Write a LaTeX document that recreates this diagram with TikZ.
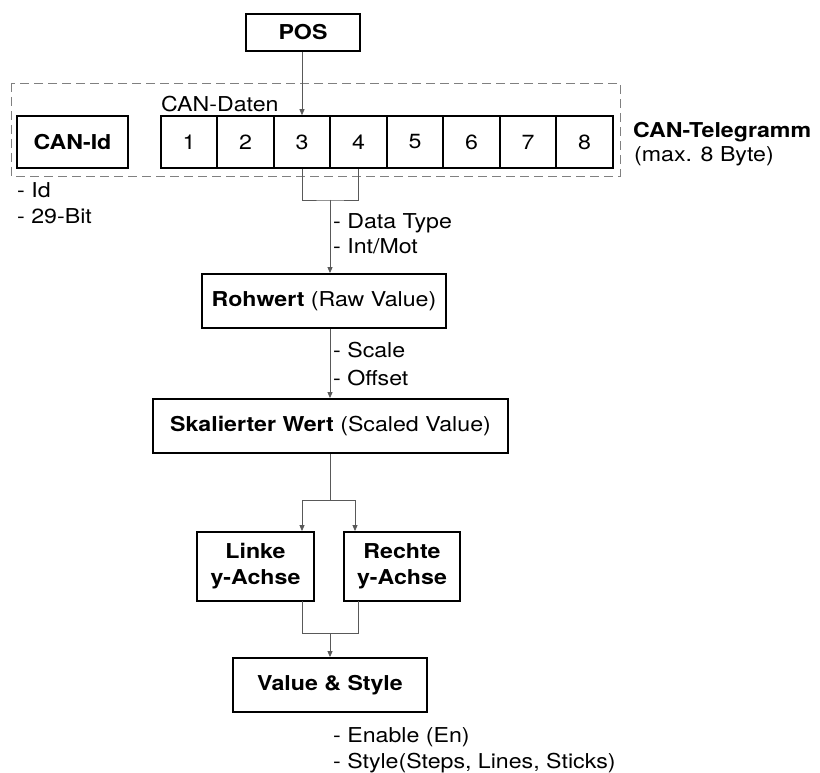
\documentclass[tikz,border=0pt]{standalone}
\usepackage{fontspec}
\setmainfont[FakeStretch=1.13]{TeX Gyre Heros}
\usetikzlibrary{arrows.meta}
\tikzset{
  x=1pt, y=-1pt,
  box/.style={draw=black, line width=1.8pt, minimum height=54pt, inner sep=0pt, font=\fontsize{20.5}{24}\selectfont},
  cell/.style={draw=black, line width=1.6pt, minimum width=56.5pt, minimum height=52pt, inner sep=0pt, font=\fontsize{20.5}{24}\selectfont},
  link/.style={draw=black!65, line width=0.8pt},
  arr/.style={link, -{Triangle[length=6pt,width=5pt]}},
  note/.style={anchor=base west, inner sep=0pt, font=\fontsize{20.5}{24}\selectfont},
}
\begin{document}
\begin{tikzpicture}
\useasboundingbox (0,0) rectangle (820,773);

% frame around the CAN telegram
\draw[draw=black!50, line width=0.8pt, dash pattern=on 9pt off 5pt] (11,83) rectangle (620,176);

\node[box, minimum width=114pt, minimum height=37pt, font=\fontsize{20.5}{24}\selectfont\bfseries] (pos) at (303,32.5) {POS};

\node[box, minimum width=111pt, minimum height=52pt, font=\fontsize{20.5}{24}\selectfont\bfseries] (canid) at (72.5,142) {CAN-Id};

\node[cell] (c1) at (189,142) {1};
\node[cell] (c2) at (245.5,142) {2};
\node[cell] (c3) at (302,142) {3};
\node[cell] (c4) at (358.5,142) {4};
\node[cell] (c5) at (415,142) {5};
\node[cell] (c6) at (471.5,142) {6};
\node[cell] (c7) at (528,142) {7};
\node[cell] (c8) at (584.5,142) {8};

\node[note] (daten) at (161,112) {CAN-Daten};
\node[note, font=\fontsize{20.5}{24}\selectfont\bfseries] (tele) at (633,138) {CAN-Telegramm};
\node[note] (tele2) at (634,162) {(max. 8 Byte)};

\node[note] (id1) at (17,197) {- Id};
\node[note] (id2) at (17,224) {- 29-Bit};

\node[box, minimum width=244pt] (raw) at (324,301) {\textbf{Rohwert} (Raw Value)};
\node[box, minimum width=355pt] (scaled) at (330.5,426) {\textbf{Skalierter Wert} (Scaled Value)};
\node[box, minimum width=117pt, minimum height=69pt, align=center, font=\fontsize{20.5}{26}\selectfont\bfseries] (left) at (255.5,566.5) {Linke\\y-Achse};
\node[box, minimum width=116pt, minimum height=69pt, align=center, font=\fontsize{20.5}{26}\selectfont\bfseries] (right) at (402,566.5) {Rechte\\y-Achse};
\node[box, minimum width=194pt, font=\fontsize{20.5}{24}\selectfont\bfseries] (vs) at (330,685) {Value \& Style};

\node[note] (dt) at (333,229) {- Data Type};
\node[note] (im) at (333,253) {- Int/Mot};
\node[note] (sc) at (333,357) {- Scale};
\node[note] (of) at (333,385) {- Offset};
\node[note] (en) at (333,742) {- Enable (En)};
\node[note] (st) at (333,768) {- Style(Steps, Lines, Sticks)};

% POS selects bytes 3 and 4
\draw[arr] (c3.north |- pos.south) -- (c3.north);

% bytes 3/4 combined into the raw value
\coordinate (j1) at (330,200);
\draw[link] (c3.south) |- (j1) -| (c4.south);
\draw[arr] (j1) -- (j1 |- raw.north);

\draw[arr] (raw.south -| j1) -- (scaled.north -| j1);

% split to the two axes
\coordinate (j2) at (330,500);
\coordinate (la) at (302,532);
\coordinate (ra) at (355,532);
\draw[link] (scaled.south -| j2) -- (j2);
\draw[arr] (j2) -| (la |- left.north);
\draw[arr] (j2) -| (ra |- right.north);

% merge into value & style
\coordinate (j3) at (330,633);
\draw[link] (302,601) |- (j3);
\draw[link] (358,601) |- (j3);
\draw[arr] (j3) -- (vs.north -| j3);
\end{tikzpicture}
\end{document}
